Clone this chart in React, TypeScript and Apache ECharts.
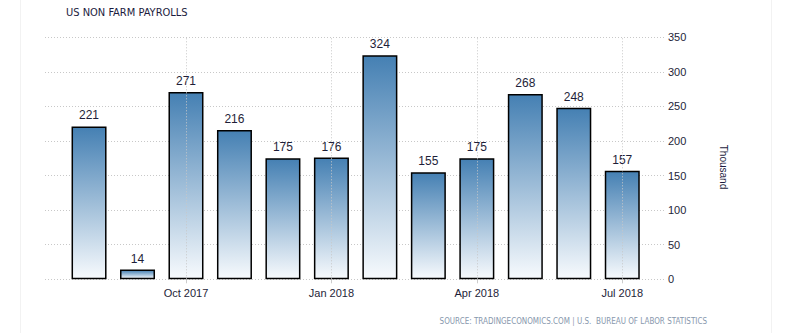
import React, { useEffect, useRef } from "react";
import * as echarts from "echarts";

const categories = [
  "Aug 2017", "Sep 2017", "Oct 2017", "Nov 2017", "Dec 2017", "Jan 2018",
  "Feb 2018", "Mar 2018", "Apr 2018", "May 2018", "Jun 2018", "Jul 2018",
];
const payrolls = [221, 14, 271, 216, 175, 176, 324, 155, 175, 268, 248, 157];
const labeledCategories = ["Oct 2017", "Jan 2018", "Apr 2018", "Jul 2018"];
const yTicks = { min: 0, max: 350, interval: 50 };

const titleText = "US NON FARM PAYROLLS";
const unitText = "Thousand";
const sourceText = "SOURCE: TRADINGECONOMICS.COM | U.S.  BUREAU OF LABOR STATISTICS";

const NARROW = "'Liberation Sans Narrow', 'DejaVu Sans Condensed', sans-serif";
const SANS = "'Liberation Sans', Arial, sans-serif";

export default function App() {
  const ref = useRef<HTMLDivElement>(null);
  useEffect(() => {
    if (!ref.current) return;
    const chart = echarts.init(ref.current, null, { renderer: "svg" });
    const showIdx = (i: number) => labeledCategories.includes(categories[i]);
    const gridTop = 37.3;
    const gridBottom = 333 - 279.3;
    chart.setOption({
      animation: false,
      backgroundColor: "#ffffff",
      grid: [
        { left: 45, right: 131, top: gridTop, bottom: gridBottom },
        { left: 64.8, right: 149.5, top: gridTop, bottom: gridBottom },
      ],
      xAxis: [
        { gridIndex: 0, type: "value", min: 0, max: 1, show: false },
        {
          gridIndex: 1,
          type: "category",
          data: categories,
          boundaryGap: true,
          axisLine: { show: false },
          axisTick: {
            show: true,
            alignWithLabel: true,
            interval: (i: number) => showIdx(i),
            length: 4,
            lineStyle: { color: "#cccccc" },
          },
          axisLabel: {
            interval: (i: number) => showIdx(i),
            color: "#1e1e38",
            fontFamily: SANS,
            fontSize: 11,
            margin: 8,
          },
          splitLine: { show: false },
        },
      ],
      yAxis: [
        {
          gridIndex: 0,
          type: "value",
          position: "right",
          min: yTicks.min,
          max: yTicks.max,
          interval: yTicks.interval,
          axisLine: { show: false },
          axisTick: { show: false },
          axisLabel: {
            color: "#1e1e38",
            fontFamily: SANS,
            fontSize: 11,
            margin: 3,
          },
          splitLine: {
            show: true,
            lineStyle: { color: "#c8c8c8", type: [1, 2], width: 1 },
          },
        },
        {
          gridIndex: 1,
          type: "value",
          min: yTicks.min,
          max: yTicks.max,
          interval: yTicks.interval,
          show: false,
          splitLine: { show: false },
        },
      ],
      graphic: [
        {
          type: "line",
          shape: { x1: 20.5, y1: 0, x2: 20.5, y2: 333 },
          style: { stroke: "#f2f2f2", lineWidth: 1 },
          silent: true,
        },
        {
          type: "line",
          shape: { x1: 771.5, y1: 0, x2: 771.5, y2: 333 },
          style: { stroke: "#f2f2f2", lineWidth: 1 },
          silent: true,
        },
        {
          type: "text",
          left: 66,
          top: 7,
          style: {
            text: titleText,
            fill: "#1c1c40",
            font: `11px ${NARROW}`,
          },
        },
        {
          type: "text",
          x: 723,
          y: 167,
          rotation: -Math.PI / 2,
          style: {
            text: unitText,
            fill: "#1c1c40",
            font: `10px ${SANS}`,
            align: "center",
            verticalAlign: "middle",
          },
        },
        {
          type: "text",
          x: 707,
          y: 321,
          style: {
            text: sourceText,
            fill: "#8797ad",
            font: `8px ${NARROW}`,
            align: "right",
            verticalAlign: "middle",
          },
        },
      ],
      series: [
        {
          type: "bar",
          xAxisIndex: 1,
          yAxisIndex: 1,
          data: payrolls,
          barWidth: 35,
          itemStyle: {
            color: new echarts.graphic.LinearGradient(0, 0, 0, 1, [
              { offset: 0, color: "#4580b3" },
              { offset: 1, color: "#f7fafd" },
            ]),
            borderColor: "#000000",
            borderWidth: 1.5,
          },
          label: {
            show: true,
            position: "top",
            distance: 5,
            color: "#1e1e38",
            fontFamily: SANS,
            fontSize: 12,
          },
          markLine: {
            silent: true,
            symbol: "none",
            label: { show: false },
            lineStyle: { color: "#c8c8c8", type: [1, 2], width: 1 },
            data: labeledCategories.map((c) => ({ xAxis: c })),
          },
        },
      ],
    });
    return () => chart.dispose();
  }, []);
  return <div ref={ref} style={{ width: 796, height: 333, position: "absolute", left: 0, top: 0 }} />;
}
